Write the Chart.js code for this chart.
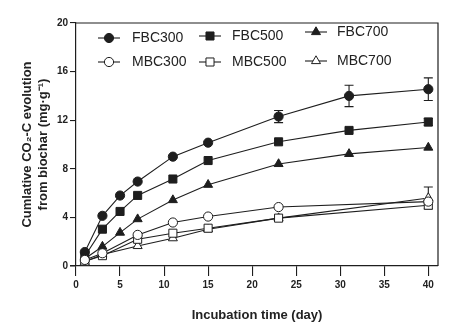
<!DOCTYPE html>
<html>
<head>
<meta charset="utf-8">
<script src="https://cdn.jsdelivr.net/npm/chart.js@4"></script>
<style>
html,body{margin:0;padding:0;background:#fff;}
#wrap{width:474px;height:336px;position:relative;}
</style>
</head>
<body>
<div id="wrap"><canvas id="c" width="474" height="336"></canvas></div>
<script>
const fbcDays = [1, 3, 5, 7, 11, 15, 23, 31, 40];
const mbcDays = [1, 3, 7, 11, 15, 23, 40];

const fbc300 = [1.15, 4.13, 5.8, 6.95, 9.0, 10.15, 12.3, 14.0, 14.55];
const fbc500 = [0.8, 3.03, 4.49, 5.81, 7.16, 8.68, 10.22, 11.16, 11.85];
const fbc700 = [0.6, 1.6, 2.75, 3.86, 5.43, 6.69, 8.4, 9.23, 9.75];
const mbc300 = [0.5, 1.05, 2.56, 3.58, 4.07, 4.85, 5.3];
const mbc500 = [0.4, 0.85, 2.2, 2.7, 3.11, 3.94, 5.0];
const mbc700 = [0.35, 0.95, 1.65, 2.29, 3.03, 3.94, 5.6];

const fbc300Err = [0, 0, 0, 0, 0, 0, 0.5, 0.88, 0.93];
const fbc500Err = [0, 0, 0, 0, 0, 0, 0, 0, 0.3];
const mbc700Err = [0, 0, 0, 0, 0, 0, 0.9];

const seriesLabels = ['FBC300', 'FBC500', 'FBC700', 'MBC300', 'MBC500', 'MBC700'];
const yTicks = [0, 4, 8, 12, 16, 20];
const xTicks = [0, 5, 10, 15, 20, 25, 30, 35, 40];

const INK = '#1e1e1e';
const FONT = 'Arial, "Liberation Sans", sans-serif';

function pts(days, vals) { return days.map((d, i) => ({x: d, y: vals[i]})); }

function ds(label, days, vals, err, style, filled, radius) {
  return {
    label: label,
    data: pts(days, vals),
    errors: err,
    borderColor: INK,
    borderWidth: 1.1,
    pointStyle: style,
    pointRadius: radius,
    pointHoverRadius: radius,
    pointBackgroundColor: filled ? INK : '#ffffff',
    pointBorderColor: INK,
    pointBorderWidth: 1,
    tension: 0,
    fill: false
  };
}

const datasets = [
  ds(seriesLabels[3], mbcDays, mbc300, null, 'circle', false, 4.6),
  ds(seriesLabels[4], mbcDays, mbc500, null, 'rect', false, 5.7),
  ds(seriesLabels[5], mbcDays, mbc700, mbc700Err, 'triangle', false, 5.2),
  ds(seriesLabels[0], fbcDays, fbc300, fbc300Err, 'circle', true, 4.6),
  ds(seriesLabels[1], fbcDays, fbc500, fbc500Err, 'rect', true, 5.7),
  ds(seriesLabels[2], fbcDays, fbc700, null, 'triangle', true, 5.2)
];

const errorBars = {
  id: 'errorBars',
  beforeDatasetsDraw(chart) {
    const {ctx, scales: {x, y}} = chart;
    ctx.save();
    ctx.strokeStyle = INK;
    ctx.lineWidth = 1.1;
    chart.data.datasets.forEach(d => {
      if (!d.errors) return;
      d.data.forEach((p, i) => {
        const e = d.errors[i];
        if (!e) return;
        const px = x.getPixelForValue(p.x);
        const top = y.getPixelForValue(p.y + e);
        const bot = y.getPixelForValue(p.y - e);
        ctx.beginPath();
        ctx.moveTo(px, top); ctx.lineTo(px, bot);
        ctx.moveTo(px - 4.5, top); ctx.lineTo(px + 4.5, top);
        ctx.moveTo(px - 4.5, bot); ctx.lineTo(px + 4.5, bot);
        ctx.stroke();
      });
    });
    ctx.restore();
  }
};

const frame = {
  id: 'frame',
  afterDraw(chart) {
    const {ctx, chartArea: a} = chart;
    ctx.save();
    ctx.strokeStyle = INK;
    ctx.lineWidth = 1.2;
    ctx.beginPath();
    ctx.moveTo(a.left, a.top); ctx.lineTo(a.right, a.top); ctx.lineTo(a.right, a.bottom);
    ctx.moveTo(a.left - 6, a.bottom); ctx.lineTo(a.left, a.bottom);
    ctx.stroke();
    ctx.restore();
  }
};

// legend grid inside plot area
const legendPlugin = {
  id: 'gridLegend',
  afterDraw(chart) {
    const {ctx} = chart;
    const order = [3, 4, 5, 0, 1, 2];
    const lineX = [98, 199, 305];
    const textX = [132, 232, 337];
    const rowY = [[38, 36, 32], [62, 62, 61]];
    ctx.save();
    order.forEach((di, k) => {
      const col = k % 3, row = Math.floor(k / 3);
      const d = chart.data.datasets[di];
      const yy = rowY[row][col];
      ctx.strokeStyle = INK;
      ctx.lineWidth = 1.1;
      ctx.beginPath();
      ctx.moveTo(lineX[col], yy); ctx.lineTo(lineX[col] + 22, yy);
      ctx.stroke();
      ctx.fillStyle = d.pointBackgroundColor;
      ctx.strokeStyle = d.pointBorderColor;
      ctx.lineWidth = 1;
      Chart.helpers.drawPoint(ctx, {pointStyle: d.pointStyle, rotation: 0, borderWidth: 1, radius: d.pointRadius}, lineX[col] + 11, yy);
      ctx.fillStyle = '#222';
      ctx.font = '14px ' + FONT;
      ctx.textBaseline = 'middle';
      ctx.textAlign = 'left';
      ctx.fillText(d.label, textX[col], yy);
    });
    ctx.restore();
  }
};

new Chart(document.getElementById('c'), {
  type: 'line',
  data: {datasets: datasets},
  plugins: [errorBars, frame, legendPlugin],
  options: {
    responsive: false,
    animation: false,
    devicePixelRatio: 1,
    layout: {padding: {left: 0, right: 36, top: 23, bottom: 0}},
    plugins: {legend: {display: false}, tooltip: {enabled: false}},
    scales: {
      x: {
        type: 'linear',
        min: 0,
        max: 41.1,
        afterBuildTicks: s => { s.ticks = xTicks.map(v => ({value: v})); },
        afterFit: s => { s.height = 70; },
        ticks: {
          includeBounds: false,
          color: '#222',
          font: {family: FONT, size: 10, weight: 'bold'},
          padding: 3,
          maxRotation: 0
        },
        grid: {drawOnChartArea: false, drawTicks: true, tickLength: 10, color: INK, lineWidth: 1.1},
        border: {display: true, color: INK, width: 1.2},
        title: {
          display: true,
          text: 'Incubation time (day)',
          color: '#222',
          font: {family: FONT, size: 13, weight: 'bold'},
          padding: {top: 0, bottom: 13}
        }
      },
      y: {
        min: 0,
        max: 20,
        afterBuildTicks: s => { s.ticks = yTicks.map(v => ({value: v})); },
        afterFit: s => { s.width = 76; },
        ticks: {
          color: '#222',
          font: {family: FONT, size: 10, weight: 'bold'},
          padding: 2
        },
        grid: {drawOnChartArea: false, drawTicks: true, tickLength: 6, color: INK, lineWidth: 1.1},
        border: {display: true, color: INK, width: 1.2},
        title: {
          display: true,
          text: ['Cumlative CO\u2082-C evolution', 'from biochar (mg\u00B7g\u207B\u00B9)'],
          color: '#222',
          font: {family: FONT, size: 13, weight: 'bold', lineHeight: 1.23},
          padding: {top: 19, bottom: 0}
        }
      }
    }
  }
});
</script>
</body>
</html>
